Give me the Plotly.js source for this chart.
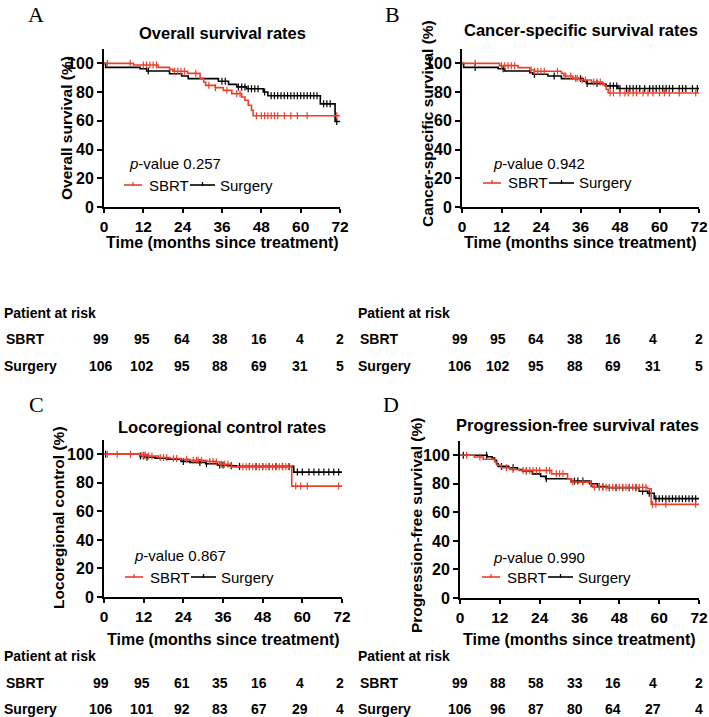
<!DOCTYPE html>
<html><head><meta charset="utf-8">
<script src="https://cdn.plot.ly/plotly-3.0.1.min.js"></script>
<style>html,body{margin:0;padding:0;background:#fff}#chart{width:709px;height:717px}</style>
</head><body><div id="chart"></div>
<script>
// ---------------- DATA ----------------
const xTicks = [0, 12, 24, 36, 48, 60, 72];
const yTicks = [0, 20, 40, 60, 80, 100];
const seriesNames = ['SBRT', 'Surgery'];

// Panel A: Overall survival
const tA_sbrt = [0, 9, 16.5, 20, 21, 25.5, 29.3, 30.4, 31, 33.9, 36.4, 39, 42, 43, 44, 45, 45.5, 72];
const sA_sbrt = [100, 98.9, 97.2, 95.8, 94.5, 93, 89.6, 87, 84.7, 83.1, 81.2, 78.9, 76.6, 74.3, 70.8, 67.4, 63.5, 63.5];
const cA_sbrt = [1, 8, 12, 13, 14, 15, 16, 21.5, 22.5, 23.5, 24.5, 28, 32, 34, 37.5, 40.5, 41.5, 46.5, 48, 49, 50, 51, 52, 53, 55, 57, 59, 62, 71];
const tA_surg = [0, 0.5, 11, 13, 20, 23.7, 25.7, 34.9, 38, 40.5, 43.5, 48.6, 50, 66, 70.5, 72];
const sA_surg = [100, 97.2, 96.3, 94.7, 92.8, 91.2, 89.4, 87.5, 85.4, 83.6, 82.3, 80.1, 77.5, 71.8, 59.5, 59.5];
const cA_surg = [13.5, 36, 37, 41, 42, 43, 44, 45, 46, 47, 49, 51, 52, 53, 54, 55, 56, 57, 58, 59, 60, 61, 62, 63, 64, 65, 67, 68, 69, 71];

// Panel B: Cancer-specific survival
const tB_sbrt = [0, 11.4, 17, 20.6, 22, 30.2, 31, 33.7, 35.7, 39.3, 42.8, 43.3, 43.8, 44.4, 72];
const sB_sbrt = [100, 98.4, 97, 95.4, 94.5, 93, 91.2, 89.6, 88.4, 87, 85.4, 84.3, 82, 79.4, 79.4];
const cB_sbrt = [4, 12, 13, 14, 15, 16, 21, 22, 23, 24, 25, 29, 31.5, 33, 34.5, 35, 36.5, 37.5, 40, 41, 42, 45, 46, 48, 49.5, 50.5, 52, 53, 55, 56.5, 58, 60, 61.5, 63, 66, 71];
const tB_surg = [0, 0.5, 11, 13, 20.6, 21.5, 26.1, 30.2, 36.8, 38, 42.8, 43.8, 47.4, 72];
const sB_surg = [100, 97.2, 96.3, 94.7, 93.5, 92.4, 91.2, 89.4, 87.5, 85.9, 85.4, 84.3, 82.5, 82.5];
const cB_surg = [4, 12.5, 22, 28, 36, 38, 41, 45, 46, 47, 48, 50, 51, 52, 53, 54, 55.5, 57, 58, 59, 60, 61, 62, 63, 64, 66, 67, 68, 70, 71.5];

// Panel C: Locoregional control
const tC_sbrt = [0, 11, 13, 16.4, 20, 23, 26, 31, 33.6, 35, 38.6, 56.8, 72];
const sC_sbrt = [100, 99.4, 98.8, 97.7, 97, 96.5, 95.8, 95, 94.6, 93, 91.2, 77.7, 77.7];
const cC_sbrt = [1, 4, 8, 11.5, 12, 12.5, 13.5, 14.5, 17, 18, 19, 21, 22, 25, 27, 28, 28.5, 29.5, 32, 33, 34, 35.5, 36.5, 37.5, 42, 43, 44, 45, 46, 47, 48, 49, 50, 51, 52, 53, 54, 55, 56, 58, 59.5, 61.5, 71];
const tC_surg = [0, 10.9, 12.4, 15.4, 18.9, 23.3, 26, 30.8, 34.3, 37.4, 40, 57.4, 72];
const sC_surg = [100, 98.8, 97.9, 97.3, 96.6, 95, 94.3, 93.4, 92.5, 92, 91.5, 87.5, 87.5];
const cC_surg = [0.5, 11, 12, 13, 24, 29, 31, 35, 36, 38.5, 41, 44, 46, 48, 50, 52, 54, 56, 58.5, 60, 62, 63.5, 65, 66.5, 68, 69.5, 71];

// Panel D: Progression-free survival
const tD_sbrt = [0, 4.3, 7, 10.5, 11.2, 12.4, 15, 17.9, 27.6, 32.4, 33.4, 39.4, 40, 56.5, 57.6, 72];
const sD_sbrt = [100, 98.8, 97.2, 95.3, 93, 91.3, 90, 89.4, 87, 83.5, 81.2, 79.5, 77.6, 76.5, 65.6, 65.6];
const cD_sbrt = [2, 6, 14, 16, 19, 20, 21, 22, 23, 24, 26, 27, 29, 30, 31, 34, 37, 40.5, 42, 43, 44, 45, 46, 47, 48, 49, 50, 51, 52, 53, 54, 55, 56, 58, 59, 62, 71];
const tD_surg = [0, 8.2, 9.7, 10.4, 11, 11.5, 14.7, 17.3, 18.8, 21.8, 24.3, 25.8, 33.4, 39, 41.4, 44.4, 54, 56.5, 58.5, 72];
const sD_surg = [100, 99, 98.1, 96.5, 94, 92.2, 91.3, 90, 89, 87, 85.2, 83.5, 81.9, 80, 78, 77.2, 74.8, 73.4, 69.6, 69.6];
const cD_surg = [1, 8, 12.5, 16, 20, 26, 34.5, 35.5, 37, 39.5, 42, 43, 45, 47, 49, 51, 53, 55, 57, 59, 60, 61, 62, 63, 64, 65, 66, 67, 68, 69, 70, 71];

// Patients at risk (at 0,12,...,72 months)
const riskA_sbrt = [99, 95, 64, 38, 16, 4, 2];
const riskA_surg = [106, 102, 95, 88, 69, 31, 5];
const riskB_sbrt = [99, 95, 64, 38, 16, 4, 2];
const riskB_surg = [106, 102, 95, 88, 69, 31, 5];
const riskC_sbrt = [99, 95, 61, 35, 16, 4, 2];
const riskC_surg = [106, 101, 92, 83, 67, 29, 4];
const riskD_sbrt = [99, 88, 58, 33, 16, 4, 2];
const riskD_surg = [106, 96, 87, 80, 64, 27, 4];

const panelLetters = ['A', 'B', 'C', 'D'];
const panelTitles = ['Overall survival rates', 'Cancer-specific survival rates', 'Locoregional control rates', 'Progression-free survival rates'];
const yTitles = ['Overall survival (%)', 'Cancer-specific survival (%)', 'Locoregional control (%)', 'Progression-free survival (%)'];
const xTitle = 'Time (months since treatment)';
const pValues = ['0.257', '0.942', '0.867', '0.990'];

// ---------------- LAYOUT ----------------
const W = 709, H = 717;
const RED = '#e8412b', BLACK = '#000000';
const FONT = 'Arial, "Liberation Sans", Helvetica, sans-serif';
const SERIF = '"Times New Roman", "Liberation Serif", serif';
const px = x => x / W, py = y => 1 - y / H;

const panels = [
  {x0: 104, x1: 340, y0: 49, y1: 207, title: [222, 33], letter: [36, 14], ytit: [66, 128], pv: [127, 163], leg: [124, 185]},
  {x0: 462, x1: 699, y0: 49, y1: 207, title: [581, 30], letter: [392, 14], ytit: [428, 123], pv: [491, 163], leg: [483, 183]},
  {x0: 104, x1: 342, y0: 440, y1: 597, title: [222, 427], letter: [36, 404], ytit: [58, 518], pv: [132, 555], leg: [125, 577]},
  {x0: 460, x1: 699, y0: 441, y1: 598, title: [577, 425], letter: [391, 404], ytit: [416, 526], pv: [491, 557], leg: [482, 577]},
];
const curves = [
  [[tA_sbrt, sA_sbrt, cA_sbrt], [tA_surg, sA_surg, cA_surg]],
  [[tB_sbrt, sB_sbrt, cB_sbrt], [tB_surg, sB_surg, cB_surg]],
  [[tC_sbrt, sC_sbrt, cC_sbrt], [tC_surg, sC_surg, cC_surg]],
  [[tD_sbrt, sD_sbrt, cD_sbrt], [tD_surg, sD_surg, cD_surg]],
];
const risks = [[riskA_sbrt, riskA_surg], [riskB_sbrt, riskB_surg], [riskC_sbrt, riskC_surg], [riskD_sbrt, riskD_surg]];
const colsL = [101, 142, 182, 220, 259, 300, 340];
const colsR = [460, 498, 536, 575, 613, 653, 699];
const tables = [
  {lx: 2, cols: colsL, yh: 313, ys: 339, yg: 366},
  {lx: 356, cols: colsR, yh: 313, ys: 339, yg: 366},
  {lx: 2, cols: colsL, yh: 656, ys: 683, yg: 709},
  {lx: 356, cols: colsR, yh: 656, ys: 683, yg: 709},
];
const xTitleY = [243, 243, 639, 639];

function stepAt(ts, vs, t) { let v = vs[0]; for (let i = 0; i < ts.length; i++) { if (ts[i] <= t) v = vs[i]; } return v; }

const traces = [], annotations = [], shapes = [];
const layout = {width: W, height: H, margin: {l: 0, r: 0, t: 0, b: 0}, showlegend: false,
  paper_bgcolor: '#fff', plot_bgcolor: 'rgba(0,0,0,0)', font: {family: FONT, color: '#000'}};

panels.forEach((p, k) => {
  const sfx = k === 0 ? '' : String(k + 1);
  const xa = 'x' + sfx, ya = 'y' + sfx;
  const tickfont = {family: FONT, size: 15.5, weight: 'bold', color: '#000'};
  layout['xaxis' + sfx] = {domain: [px(p.x0), px(p.x1)], anchor: ya, range: [0, 72], tickvals: xTicks,
    showline: true, linewidth: 2, linecolor: '#000', ticks: 'outside', ticklen: 4, tickwidth: 2, tickcolor: '#000',
    showgrid: false, zeroline: false, tickfont: tickfont, fixedrange: true};
  layout['yaxis' + sfx] = {domain: [py(p.y1), py(p.y0)], anchor: xa, range: [0, 110], tickvals: yTicks,
    showline: true, linewidth: 2, linecolor: '#000', ticks: 'outside', ticklen: 5, tickwidth: 2, tickcolor: '#000',
    showgrid: false, zeroline: false, tickfont: {family: FONT, size: 16, weight: 'bold', color: '#000'}, fixedrange: true, ticklabelstandoff: 0};
  [1, 0].forEach(si => {
    const [ts, vs, cs] = curves[k][si];
    const col = si === 0 ? RED : BLACK;
    traces.push({x: ts, y: vs, xaxis: xa, yaxis: ya, type: 'scatter', mode: 'lines', name: seriesNames[si],
      line: {shape: 'hv', color: col, width: 1.6}, hoverinfo: 'skip'});
    traces.push({x: cs, y: cs.map(t => stepAt(ts, vs, t)), xaxis: xa, yaxis: ya, type: 'scatter', mode: 'markers',
      name: seriesNames[si] + ' censored', marker: {symbol: 'line-ns', size: 5, line: {color: col, width: 1.2}}, hoverinfo: 'skip'});
  });
  annotations.push({text: '<b>' + panelTitles[k] + '</b>', x: px(p.title[0]), y: py(p.title[1]), xref: 'paper', yref: 'paper',
    xanchor: 'center', yanchor: 'middle', showarrow: false, font: {family: FONT, size: 16.5, color: '#000'}});
  annotations.push({text: panelLetters[k], x: px(p.letter[0]), y: py(p.letter[1]), xref: 'paper', yref: 'paper',
    xanchor: 'center', yanchor: 'middle', showarrow: false, font: {family: SERIF, size: 22, color: '#000'}});
  annotations.push({text: '<b>' + yTitles[k] + '</b>', x: px(p.ytit[0]), y: py(p.ytit[1]), xref: 'paper', yref: 'paper',
    xanchor: 'center', yanchor: 'middle', textangle: -90, showarrow: false, font: {family: FONT, size: 15.5, color: '#000'}});
  annotations.push({text: '<b>' + xTitle + '</b>', x: px((p.x0 + p.x1) / 2), y: py(xTitleY[k]), xref: 'paper', yref: 'paper',
    xanchor: 'center', yanchor: 'middle', showarrow: false, font: {family: FONT, size: 16, color: '#000'}});
  annotations.push({text: '<i>p</i>-value ' + pValues[k], x: px(p.pv[0]), y: py(p.pv[1]), xref: 'paper', yref: 'paper',
    xanchor: 'left', yanchor: 'middle', showarrow: false, font: {family: FONT, size: 15, color: '#000'}});
  const lx = p.leg[0], ly = p.leg[1];
  const items = [{c: RED, x: lx, w: 18, t: seriesNames[0], tx: lx + 23}, {c: BLACK, x: lx + 66, w: 25, t: seriesNames[1], tx: lx + 94}];
  items.forEach(it => {
    shapes.push({type: 'line', xref: 'paper', yref: 'paper', x0: px(it.x), x1: px(it.x + it.w), y0: py(ly), y1: py(ly), line: {color: it.c, width: 1.6}});
    shapes.push({type: 'line', xref: 'paper', yref: 'paper', x0: px(it.x + it.w / 2), x1: px(it.x + it.w / 2), y0: py(ly - 3), y1: py(ly + 1), line: {color: it.c, width: 1.3}});
    annotations.push({text: it.t, x: px(it.tx), y: py(ly), xref: 'paper', yref: 'paper', xanchor: 'left', yanchor: 'middle',
      showarrow: false, font: {family: FONT, size: 15, color: '#000'}});
  });
  const tb = tables[k];
  const tf = {family: FONT, size: 14, color: '#000'};
  annotations.push({text: '<b>Patient at risk</b>', x: px(tb.lx), y: py(tb.yh), xref: 'paper', yref: 'paper', xanchor: 'left', yanchor: 'middle', showarrow: false, font: tf});
  annotations.push({text: '<b>' + seriesNames[0] + '</b>', x: px(tb.lx + 2), y: py(tb.ys), xref: 'paper', yref: 'paper', xanchor: 'left', yanchor: 'middle', showarrow: false, font: tf});
  annotations.push({text: '<b>' + seriesNames[1] + '</b>', x: px(tb.lx), y: py(tb.yg), xref: 'paper', yref: 'paper', xanchor: 'left', yanchor: 'middle', showarrow: false, font: tf});
  risks[k].forEach((row, ri) => {
    row.forEach((v, ci) => {
      annotations.push({text: '<b>' + v + '</b>', x: px(tb.cols[ci]), y: py(ri === 0 ? tb.ys : tb.yg), xref: 'paper', yref: 'paper',
        xanchor: 'center', yanchor: 'middle', showarrow: false, font: tf});
    });
  });
});
layout.annotations = annotations;
layout.shapes = shapes;
Plotly.newPlot('chart', traces, layout, {displayModeBar: false, staticPlot: true});
</script></body></html>
